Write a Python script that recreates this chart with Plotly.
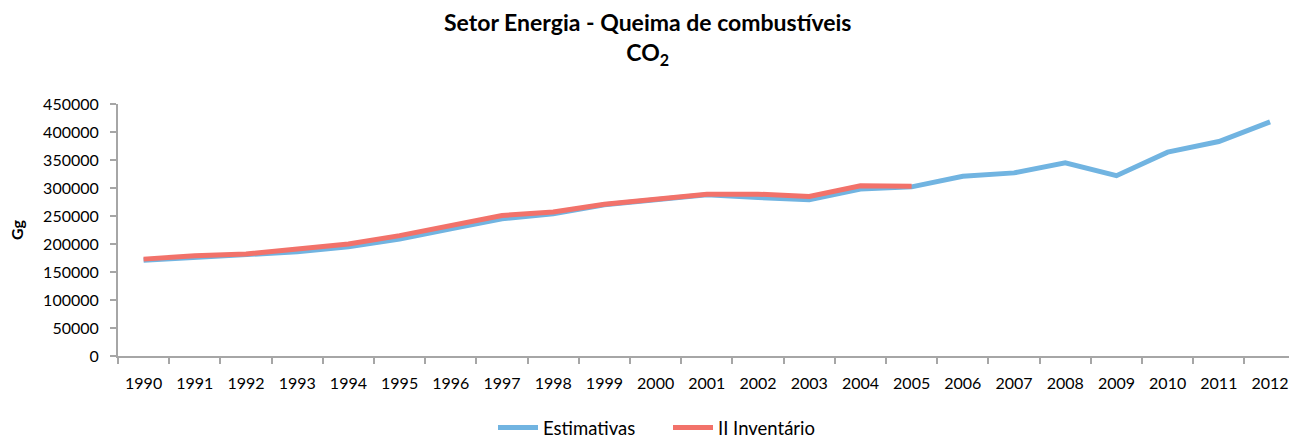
import plotly.graph_objects as go

years = [str(y) for y in range(1990, 2013)]
estimativas = [171000, 176000, 180000, 186000, 195000, 209000, 227000, 245000, 254000, 270000,
               279000, 288000, 283000, 279000, 298000, 302000, 321000, 327000, 345000, 322000,
               364000, 383000, 418000]
inventario_years = [str(y) for y in range(1990, 2006)]
inventario = [173000, 179000, 182000, 191000, 200000, 215000, 233000, 251000, 257000, 271000,
              280000, 289000, 289000, 285000, 304000, 303000]
title_text = "Setor Energia - Queima de combustíveis<br>CO<sub>2</sub>"

BLUE = "#71B4E1"
RED = "#F2726A"
FONT = "Lato"

fig = go.Figure()
fig.add_trace(go.Scatter(x=years, y=estimativas, mode="lines", name="Estimativas",
                         line=dict(color=BLUE, width=5)))
fig.add_trace(go.Scatter(x=inventario_years, y=inventario, mode="lines", name="II Inventário",
                         line=dict(color=RED, width=5)))

PT, PB = 104, 356
H = PB - PT
def ypaper(px):
    return (PB - px) / H

fig.update_layout(
    width=1289, height=438,
    margin=dict(l=118, r=0, t=PT, b=438 - PB),
    paper_bgcolor="white", plot_bgcolor="white",
    font=dict(family=FONT, size=16, color="#000"),
    showlegend=True,
    legend=dict(orientation="h", xref="container", x=668 / 1289, xanchor="center",
                yref="container", y=(438 - 428) / 438, yanchor="middle",
                font=dict(family=FONT, size=18.5, color="#000"), itemwidth=40,
                entrywidth=120, entrywidthmode="pixels"),
    hovermode=False,
    annotations=[
        dict(text="<b>" + title_text + "</b>", xref="paper", yref="paper",
             x=(647.5 - 118) / 1171, y=ypaper(5.5), xanchor="center", yanchor="top",
             align="center", showarrow=False,
             font=dict(family=FONT, size=23, color="#000")),
    ],
)
fig.update_xaxes(type="category", range=[-0.5, 22.37], showgrid=False,
                 showline=True, linecolor="#A6A6A6", linewidth=2,
                 ticks="outside", tickson="boundaries", ticklen=6, tickwidth=2, tickcolor="#A6A6A6",
                 tickfont=dict(family=FONT, size=16, color="#000"), ticklabelstandoff=12)
fig.update_yaxes(range=[0, 450000], dtick=50000, showgrid=False, zeroline=False,
                 showline=True, linecolor="#A6A6A6", linewidth=2,
                 ticks="outside", ticklen=6, tickwidth=2, tickcolor="#A6A6A6",
                 tickformat="d", tickfont=dict(family=FONT, size=16, color="#000"),
                 ticklabelstandoff=8,
                 title=dict(text="<b>Gg</b>", font=dict(family=FONT, size=16, color="#000"),
                            standoff=16))

fig.write_html("out.html", config={"displayModeBar": False},
               post_script="document.body.style.margin='0px';document.body.style.overflow='hidden';")
